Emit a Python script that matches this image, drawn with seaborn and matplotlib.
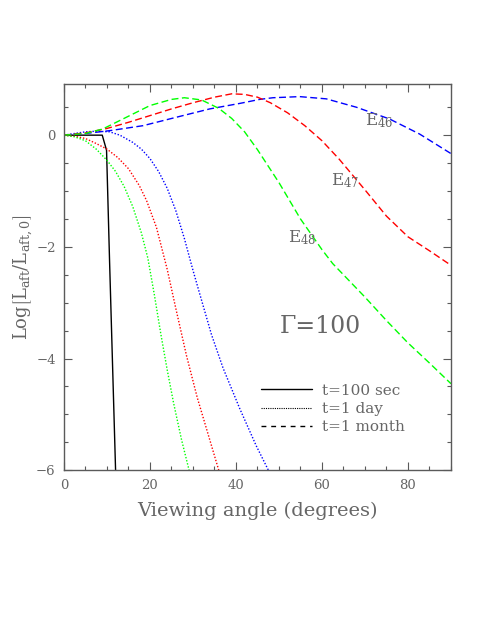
import matplotlib
matplotlib.use('Agg')
import matplotlib.pyplot as plt
from matplotlib.lines import Line2D
import seaborn as sns

# viewing angle (deg) and Log[L_aft/L_aft,0]
# t = 100 sec
sec_x = [0, 8.9, 9.9, 10.6, 12.0]
sec_y = [0, 0, -0.27, -2.25, -6.0]

# t = 1 day
day46_x = [0, 2.5, 5, 7.5, 10.6, 13, 16, 18, 20, 22, 24, 26, 28, 30, 31.6, 34.3, 37, 40.9, 44.7, 47.8]
day46_y = [0, 0.03, 0.06, 0.07, 0.06, 0.0, -0.13, -0.25, -0.42, -0.65, -0.95, -1.35, -1.85, -2.42,
           -2.85, -3.57, -4.17, -4.9, -5.56, -6.04]
day47_x = [0, 2.5, 5, 7.5, 10, 12.5, 15, 17.5, 19.2, 21.5, 24, 26, 28.5, 31, 33.5, 36]
day47_y = [0, -0.02, -0.06, -0.15, -0.25, -0.4, -0.6, -0.9, -1.17, -1.65, -2.4, -3.1, -3.95, -4.7,
           -5.35, -6.0]
day48_x = [0, 2.5, 5, 7.5, 10, 12, 14, 16, 18, 19.5, 21, 22.5, 24, 25.5, 27.3, 29.1]
day48_y = [0, -0.03, -0.1, -0.25, -0.45, -0.65, -0.92, -1.28, -1.75, -2.2, -2.85, -3.55, -4.2, -4.8,
           -5.44, -6.0]

# t = 1 month
mon46_x = [0, 5, 10.6, 18.4, 26.1, 33.9, 41, 45.5, 48.6, 54.8, 61, 68, 75.7, 82.7, 90]
mon46_y = [0, 0.03, 0.08, 0.17, 0.32, 0.47, 0.57, 0.64, 0.67, 0.69, 0.65, 0.5, 0.29, 0.02, -0.33]
mon47_x = [0, 5, 10, 15, 20, 25, 30, 35, 39, 42, 45, 48, 52, 56, 60, 64, 70, 75, 80, 85, 90]
mon47_y = [0, 0.04, 0.12, 0.23, 0.35, 0.47, 0.58, 0.68, 0.74, 0.73, 0.68, 0.58, 0.4, 0.17, -0.1,
           -0.43, -0.98, -1.45, -1.82, -2.07, -2.33]
mon48_x = [0, 5, 9, 14.5, 20, 25, 28, 32, 36, 39, 42, 45, 50, 55, 60, 62.5, 70, 75, 80, 85, 90]
mon48_y = [0, 0.03, 0.11, 0.32, 0.53, 0.64, 0.67, 0.63, 0.48, 0.3, 0.06, -0.26, -0.85, -1.5, -2.05,
           -2.3, -2.9, -3.32, -3.72, -4.08, -4.45]

energy_labels = ['E$_{46}$', 'E$_{47}$', 'E$_{48}$']
legend_labels = ['t=100 sec', 't=1 day', 't=1 month']

sns.set_style('ticks')
plt.rcParams['font.family'] = ['DejaVu Serif']
plt.rcParams['mathtext.fontset'] = 'dejavuserif'
grey = '#5a5a5a'
tgrey = '#666666'

dot = (0, (1, 1.3))
dash = (0, (5, 2.5))

fig = plt.figure(figsize=(4.91, 6.35), dpi=100)
ax = fig.add_axes([0.1303, 0.2594, 0.7882, 0.6078])

sns.lineplot(x=sec_x, y=sec_y, ax=ax, color='black', lw=1, sort=False, estimator=None)
for xs, ys, c in [(day46_x, day46_y, 'blue'), (day47_x, day47_y, 'red'), (day48_x, day48_y, '#00ff00')]:
    sns.lineplot(x=xs, y=ys, ax=ax, color=c, lw=1, linestyle=dot, sort=False, estimator=None)
for xs, ys, c in [(mon46_x, mon46_y, 'blue'), (mon47_x, mon47_y, 'red'), (mon48_x, mon48_y, '#00ff00')]:
    sns.lineplot(x=xs, y=ys, ax=ax, color=c, lw=1, linestyle=dash, sort=False, estimator=None)

ax.set_xlim(0, 90)
ax.set_ylim(-6, 0.91)
ax.set_xticks([0, 20, 40, 60, 80])
ax.set_xticks(range(0, 91, 5), minor=True)
ax.set_yticks([-6, -4, -2, 0])
ax.set_yticks([-6 + 0.5 * i for i in range(14)], minor=True)
ax.set_yticklabels(['\u22126', '\u22124', '\u22122', '0'])
ax.tick_params(which='both', direction='in', top=True, right=True, color=grey,
               labelcolor=tgrey, labelsize=9.5, width=0.8)
ax.tick_params(which='major', length=6, pad=6)
ax.tick_params(which='minor', length=3)
for s in ax.spines.values():
    s.set_color(grey)
    s.set_linewidth(1)

ax.set_xlabel('Viewing angle (degrees)', fontsize=14, color=tgrey, labelpad=7)
ax.set_ylabel(r'Log$\left[\mathrm{L_{aft}}/\mathrm{L_{aft,0}}\right]$', fontsize=13, color=tgrey,
              labelpad=1)

# energy labels next to the month curves
for (tx, ty), lab in zip([(70, 0.18), (62, -0.9), (52.1, -1.92)], energy_labels):
    ax.text(tx, ty, lab, fontsize=12, color=tgrey, ha='left', va='baseline')

ax.text(50.2, -3.54, '\u0393=100', fontsize=17, color=tgrey, ha='left', va='baseline')

handles = [Line2D([], [], color='black', lw=1),
           Line2D([], [], color='black', lw=0.8, linestyle=(0, (1, 1))),
           Line2D([], [], color='black', lw=1, linestyle=(0, (3.5, 3.5)))]
leg = ax.legend(handles, legend_labels, loc='center left', bbox_to_anchor=(0.51, 0.159),
                frameon=False, fontsize=11, handlelength=3.33, handletextpad=0.65,
                labelspacing=0.28, borderpad=0, borderaxespad=0)
for t in leg.get_texts():
    t.set_color(tgrey)

fig.savefig('out.png', dpi=100)
